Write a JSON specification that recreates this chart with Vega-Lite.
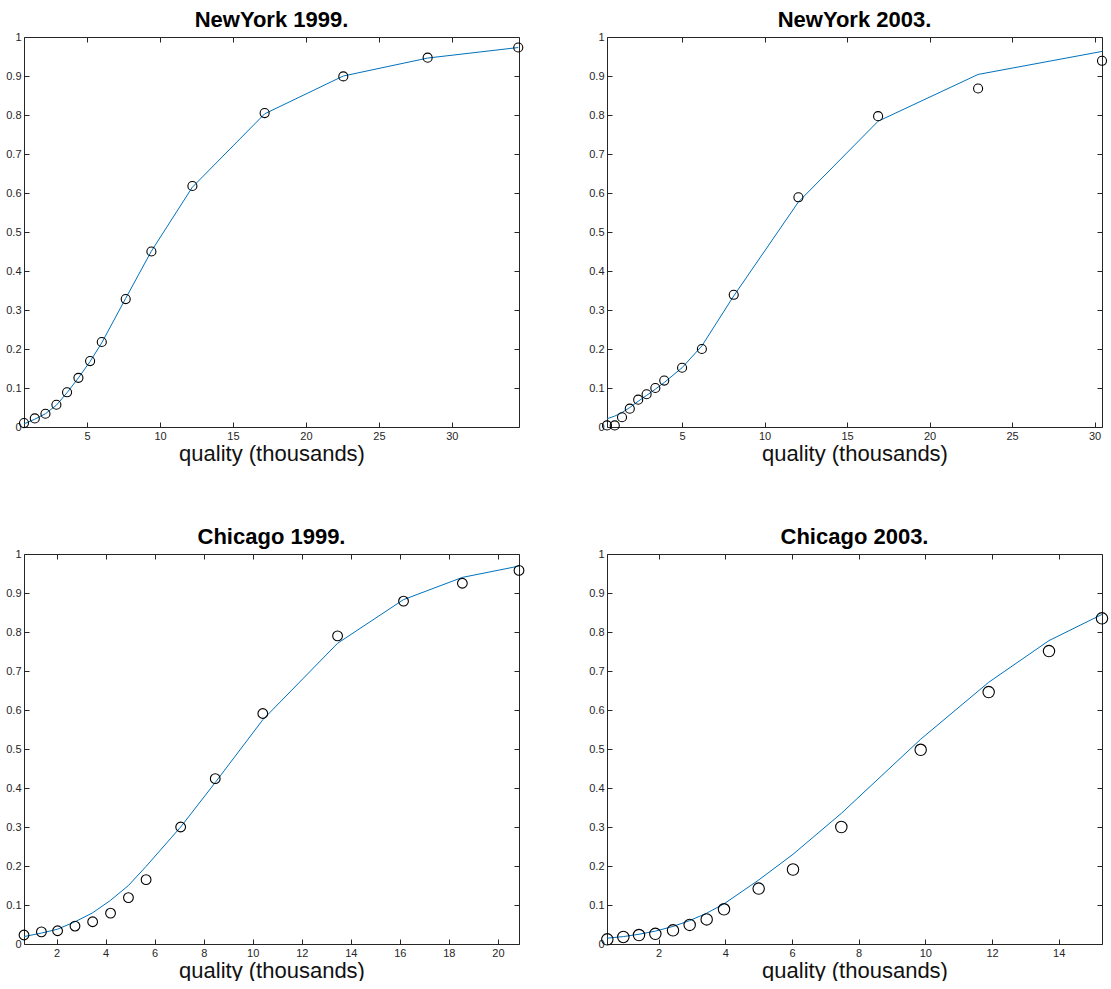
{
  "$schema": "https://vega.github.io/schema/vega-lite/v6.json",
  "padding": {"left": 5, "top": 9, "right": 0, "bottom": 0},
  "background": "white",
  "datasets": {
    "ny1999": [
      {"quality": 0.68, "share": 0.010, "fit": 0.008},
      {"quality": 1.42, "share": 0.022, "fit": 0.020},
      {"quality": 2.15, "share": 0.034, "fit": 0.034},
      {"quality": 2.90, "share": 0.057, "fit": 0.056},
      {"quality": 3.63, "share": 0.089, "fit": 0.088},
      {"quality": 4.41, "share": 0.126, "fit": 0.126},
      {"quality": 5.21, "share": 0.169, "fit": 0.168},
      {"quality": 6.01, "share": 0.218, "fit": 0.216},
      {"quality": 7.65, "share": 0.328, "fit": 0.330},
      {"quality": 9.41, "share": 0.450, "fit": 0.451},
      {"quality": 12.22, "share": 0.618, "fit": 0.615},
      {"quality": 17.17, "share": 0.805, "fit": 0.803},
      {"quality": 22.56, "share": 0.899, "fit": 0.900},
      {"quality": 28.34, "share": 0.947, "fit": 0.946},
      {"quality": 34.55, "share": 0.973, "fit": 0.973}
    ],
    "ny2003": [
      {"quality": 0.45, "share": 0.004, "fit": 0.021},
      {"quality": 0.92, "share": 0.004, "fit": 0.028},
      {"quality": 1.36, "share": 0.025, "fit": 0.037},
      {"quality": 1.83, "share": 0.047, "fit": 0.050},
      {"quality": 2.34, "share": 0.070, "fit": 0.066},
      {"quality": 2.85, "share": 0.084, "fit": 0.081},
      {"quality": 3.38, "share": 0.100, "fit": 0.097},
      {"quality": 3.92, "share": 0.119, "fit": 0.114},
      {"quality": 5.00, "share": 0.152, "fit": 0.152},
      {"quality": 6.20, "share": 0.200, "fit": 0.208},
      {"quality": 8.13, "share": 0.339, "fit": 0.336},
      {"quality": 12.05, "share": 0.589, "fit": 0.577},
      {"quality": 16.88, "share": 0.797, "fit": 0.784},
      {"quality": 22.94, "share": 0.868, "fit": 0.904},
      {"quality": 30.45, "share": 0.939, "fit": 0.963}
    ],
    "chi1999": [
      {"quality": 0.67, "share": 0.023, "fit": 0.019},
      {"quality": 1.38, "share": 0.031, "fit": 0.028},
      {"quality": 2.04, "share": 0.034, "fit": 0.038},
      {"quality": 2.75, "share": 0.046, "fit": 0.057},
      {"quality": 3.47, "share": 0.057, "fit": 0.080},
      {"quality": 4.20, "share": 0.079, "fit": 0.112},
      {"quality": 4.93, "share": 0.119, "fit": 0.150},
      {"quality": 5.65, "share": 0.165, "fit": 0.199},
      {"quality": 7.06, "share": 0.300, "fit": 0.300},
      {"quality": 8.47, "share": 0.424, "fit": 0.414},
      {"quality": 10.41, "share": 0.591, "fit": 0.575},
      {"quality": 13.46, "share": 0.790, "fit": 0.771},
      {"quality": 16.15, "share": 0.879, "fit": 0.883},
      {"quality": 18.55, "share": 0.925, "fit": 0.940},
      {"quality": 20.86, "share": 0.958, "fit": 0.969}
    ],
    "chi2003": [
      {"quality": 0.46, "share": 0.012, "fit": 0.015},
      {"quality": 0.94, "share": 0.018, "fit": 0.019},
      {"quality": 1.41, "share": 0.023, "fit": 0.025},
      {"quality": 1.90, "share": 0.026, "fit": 0.033},
      {"quality": 2.43, "share": 0.035, "fit": 0.045},
      {"quality": 2.93, "share": 0.049, "fit": 0.060},
      {"quality": 3.44, "share": 0.063, "fit": 0.079},
      {"quality": 3.96, "share": 0.089, "fit": 0.103},
      {"quality": 5.00, "share": 0.142, "fit": 0.164},
      {"quality": 6.03, "share": 0.191, "fit": 0.230},
      {"quality": 7.48, "share": 0.300, "fit": 0.335},
      {"quality": 9.86, "share": 0.498, "fit": 0.525},
      {"quality": 11.90, "share": 0.646, "fit": 0.671},
      {"quality": 13.71, "share": 0.751, "fit": 0.778},
      {"quality": 15.30, "share": 0.835, "fit": 0.845}
    ]
  },
  "columns": 2,
  "spacing": {"row": 127, "column": 88},
  "bounds": "flush",
  "concat": [
    {
      "width": 495, "height": 390,
      "data": {"name": "ny1999"},
      "title": "NewYork 1999.",
      "layer": [
        {
          "mark": {"type": "line", "color": "#0072BD", "strokeWidth": 1},
          "encoding": {
            "x": {"field": "quality", "type": "quantitative", "scale": {"domain": [0.68, 34.6], "nice": false, "zero": false}, "axis": {"orient": "bottom", "values": [5, 10, 15, 20, 25, 30], "title": "quality (thousands)"}},
            "y": {"field": "fit", "type": "quantitative", "scale": {"domain": [0, 1], "nice": false, "zero": false}, "axis": {"orient": "left", "values": [0, 0.1, 0.2, 0.3, 0.4, 0.5, 0.6, 0.7, 0.8, 0.9, 1], "title": null}}
          }
        },
        {
          "mark": {"type": "point", "shape": "circle", "filled": false, "stroke": "black", "strokeWidth": 1.1, "size": 82, "opacity": 1},
          "encoding": {
            "x": {"field": "quality", "type": "quantitative", "scale": {"domain": [0.68, 34.6], "nice": false, "zero": false}, "axis": {"orient": "top", "values": [5, 10, 15, 20, 25, 30], "labels": false, "title": null}},
            "y": {"field": "share", "type": "quantitative", "scale": {"domain": [0, 1], "nice": false, "zero": false}, "axis": {"orient": "right", "values": [0, 0.1, 0.2, 0.3, 0.4, 0.5, 0.6, 0.7, 0.8, 0.9, 1], "labels": false, "title": null}}
          }
        }
      ],
      "resolve": {"axis": {"x": "independent", "y": "independent"}}
    },
    {
      "width": 495, "height": 390,
      "data": {"name": "ny2003"},
      "title": "NewYork 2003.",
      "layer": [
        {
          "mark": {"type": "line", "color": "#0072BD", "strokeWidth": 1},
          "encoding": {
            "x": {"field": "quality", "type": "quantitative", "scale": {"domain": [0.45, 30.45], "nice": false, "zero": false}, "axis": {"orient": "bottom", "values": [5, 10, 15, 20, 25, 30], "title": "quality (thousands)"}},
            "y": {"field": "fit", "type": "quantitative", "scale": {"domain": [0, 1], "nice": false, "zero": false}, "axis": {"orient": "left", "values": [0, 0.1, 0.2, 0.3, 0.4, 0.5, 0.6, 0.7, 0.8, 0.9, 1], "title": null}}
          }
        },
        {
          "mark": {"type": "point", "shape": "circle", "filled": false, "stroke": "black", "strokeWidth": 1.1, "size": 82, "opacity": 1},
          "encoding": {
            "x": {"field": "quality", "type": "quantitative", "scale": {"domain": [0.45, 30.45], "nice": false, "zero": false}, "axis": {"orient": "top", "values": [5, 10, 15, 20, 25, 30], "labels": false, "title": null}},
            "y": {"field": "share", "type": "quantitative", "scale": {"domain": [0, 1], "nice": false, "zero": false}, "axis": {"orient": "right", "values": [0, 0.1, 0.2, 0.3, 0.4, 0.5, 0.6, 0.7, 0.8, 0.9, 1], "labels": false, "title": null}}
          }
        }
      ],
      "resolve": {"axis": {"x": "independent", "y": "independent"}}
    },
    {
      "width": 495, "height": 390,
      "data": {"name": "chi1999"},
      "title": "Chicago 1999.",
      "layer": [
        {
          "mark": {"type": "line", "color": "#0072BD", "strokeWidth": 1},
          "encoding": {
            "x": {"field": "quality", "type": "quantitative", "scale": {"domain": [0.67, 20.86], "nice": false, "zero": false}, "axis": {"orient": "bottom", "values": [2, 4, 6, 8, 10, 12, 14, 16, 18, 20], "title": "quality (thousands)"}},
            "y": {"field": "fit", "type": "quantitative", "scale": {"domain": [0, 1], "nice": false, "zero": false}, "axis": {"orient": "left", "values": [0, 0.1, 0.2, 0.3, 0.4, 0.5, 0.6, 0.7, 0.8, 0.9, 1], "title": null}}
          }
        },
        {
          "mark": {"type": "point", "shape": "circle", "filled": false, "stroke": "black", "strokeWidth": 1.1, "size": 95, "opacity": 1},
          "encoding": {
            "x": {"field": "quality", "type": "quantitative", "scale": {"domain": [0.67, 20.86], "nice": false, "zero": false}, "axis": {"orient": "top", "values": [2, 4, 6, 8, 10, 12, 14, 16, 18, 20], "labels": false, "title": null}},
            "y": {"field": "share", "type": "quantitative", "scale": {"domain": [0, 1], "nice": false, "zero": false}, "axis": {"orient": "right", "values": [0, 0.1, 0.2, 0.3, 0.4, 0.5, 0.6, 0.7, 0.8, 0.9, 1], "labels": false, "title": null}}
          }
        }
      ],
      "resolve": {"axis": {"x": "independent", "y": "independent"}}
    },
    {
      "width": 495, "height": 390,
      "data": {"name": "chi2003"},
      "title": "Chicago 2003.",
      "layer": [
        {
          "mark": {"type": "line", "color": "#0072BD", "strokeWidth": 1},
          "encoding": {
            "x": {"field": "quality", "type": "quantitative", "scale": {"domain": [0.45, 15.3], "nice": false, "zero": false}, "axis": {"orient": "bottom", "values": [2, 4, 6, 8, 10, 12, 14], "title": "quality (thousands)"}},
            "y": {"field": "fit", "type": "quantitative", "scale": {"domain": [0, 1], "nice": false, "zero": false}, "axis": {"orient": "left", "values": [0, 0.1, 0.2, 0.3, 0.4, 0.5, 0.6, 0.7, 0.8, 0.9, 1], "title": null}}
          }
        },
        {
          "mark": {"type": "point", "shape": "circle", "filled": false, "stroke": "black", "strokeWidth": 1.1, "size": 130, "opacity": 1},
          "encoding": {
            "x": {"field": "quality", "type": "quantitative", "scale": {"domain": [0.45, 15.3], "nice": false, "zero": false}, "axis": {"orient": "top", "values": [2, 4, 6, 8, 10, 12, 14], "labels": false, "title": null}},
            "y": {"field": "share", "type": "quantitative", "scale": {"domain": [0, 1], "nice": false, "zero": false}, "axis": {"orient": "right", "values": [0, 0.1, 0.2, 0.3, 0.4, 0.5, 0.6, 0.7, 0.8, 0.9, 1], "labels": false, "title": null}}
          }
        }
      ],
      "resolve": {"axis": {"x": "independent", "y": "independent"}}
    }
  ],
  "config": {
    "view": {"stroke": null},
    "axis": {
      "grid": false,
      "tickSize": -5,
      "labelPadding": 8,
      "tickColor": "#262626",
      "domainColor": "#262626",
      "tickWidth": 1,
      "domainWidth": 1,
      "labelColor": "#262626",
      "labelFont": "Liberation Sans",
      "labelFontSize": 11,
      "labelFlush": false,
      "labelOverlap": false,
      "format": "~g",
      "titleFont": "Liberation Sans",
      "titleFontSize": 22,
      "titleFontWeight": "normal",
      "titleColor": "#111111",
      "titlePadding": 2
    },
    "title": {
      "font": "Liberation Sans",
      "fontSize": 22,
      "fontWeight": "bold",
      "color": "#000000",
      "anchor": "middle",
      "baseline": "bottom",
      "offset": -1
    }
  }
}
